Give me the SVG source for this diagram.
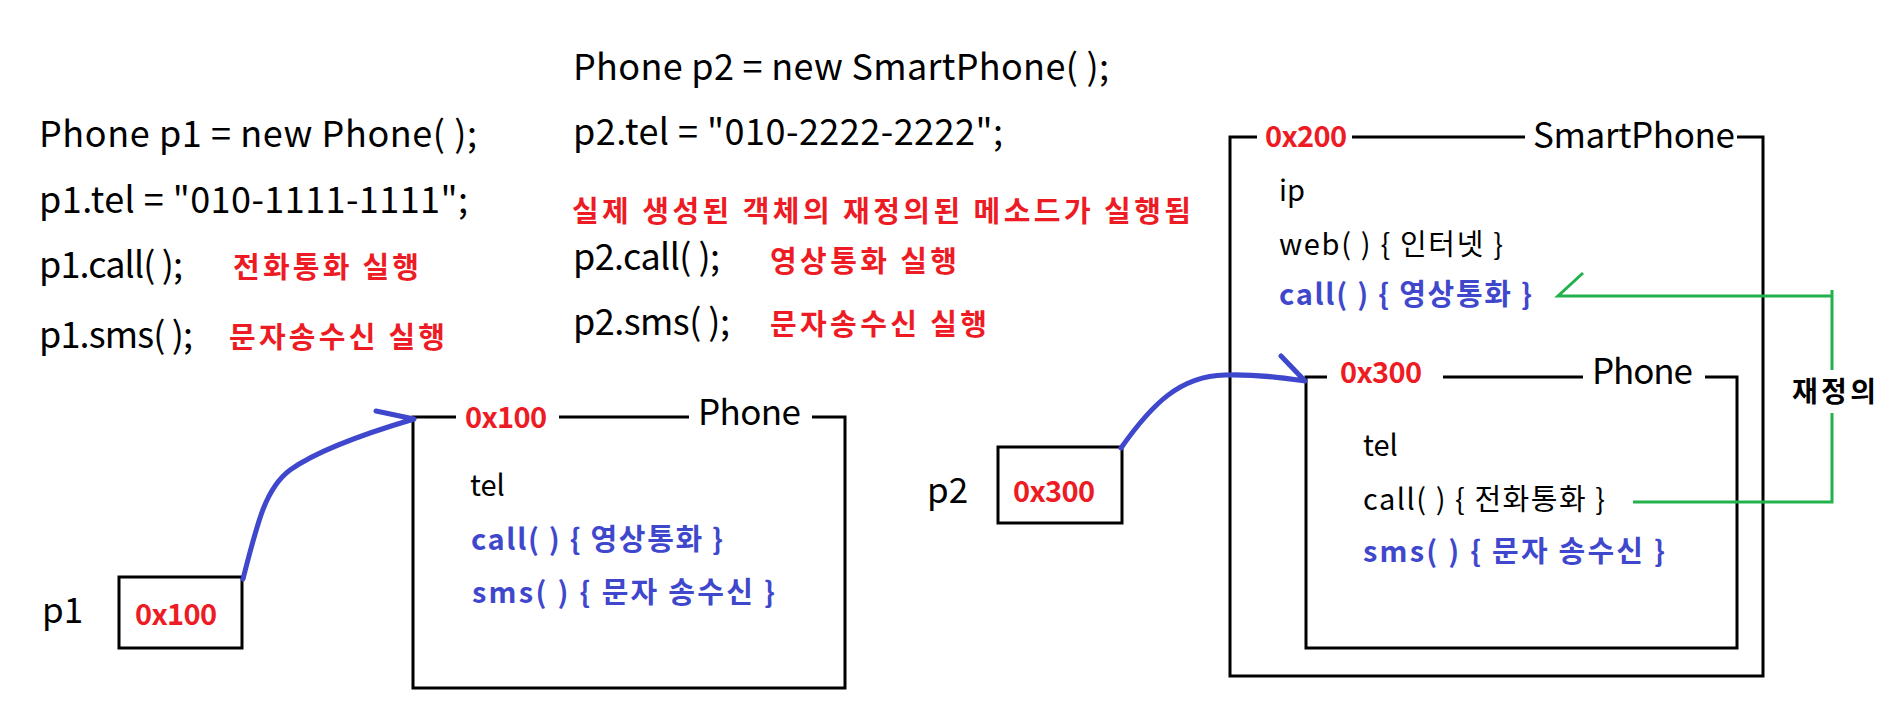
<svg xmlns="http://www.w3.org/2000/svg" width="1900" height="721" viewBox="0 0 1900 721">
<style>
text{font-family:"Noto Sans CJK KR","Malgun Gothic","Noto Sans",sans-serif}
.code{font-size:36px;fill:#000}
.note{font-size:29px;font-weight:bold;fill:#ED1C24}
.hex{font-size:29px;font-weight:bold;fill:#ED1C24}
.cls{font-size:35px;fill:#000}
.fld{font-size:29px;fill:#000}
.meth{font-size:29px;font-weight:bold;fill:#3F48CC}
.lbl{font-size:35px;fill:#000}
.ovt{font-size:28px;font-weight:bold;fill:#000}
.box{fill:none;stroke:#000;stroke-width:3}
.ref{fill:none;stroke:#3F48CC;stroke-width:5;stroke-linecap:round;stroke-linejoin:round}
.ovr{fill:none;stroke:#22B14C;stroke-width:3}
</style>
<rect width="1900" height="721" fill="#fff"/>

<g id="code-p1">
<text class="code" x="39" y="147" textLength="438">Phone p1 = new Phone( );</text>
<text class="code" x="39" y="213" textLength="429">p1.tel = "010-1111-1111";</text>
<text class="code" x="39" y="278" textLength="144">p1.call( );</text>
<text class="note" x="233" y="278" textLength="186">전화통화 실행</text>
<text class="code" x="39" y="348" textLength="154">p1.sms( );</text>
<text class="note" x="229" y="348" textLength="216">문자송수신 실행</text>
</g>

<g id="code-p2">
<text class="code" x="573" y="80" textLength="536">Phone p2 = new SmartPhone( );</text>
<text class="code" x="573" y="145" textLength="430">p2.tel = "010-2222-2222";</text>
<text class="note" x="572" y="222" textLength="619">실제 생성된 객체의 재정의된 메소드가 실행됨</text>
<text class="code" x="573" y="270" textLength="147">p2.call( );</text>
<text class="note" x="770" y="272" textLength="187">영상통화 실행</text>
<text class="code" x="573" y="335" textLength="157">p2.sms( );</text>
<text class="note" x="770" y="335" textLength="217">문자송수신 실행</text>
</g>

<g id="var-p1">
<text class="lbl" x="42" y="623">p1</text>
<rect class="box" x="119" y="577" width="123" height="71"/>
<text class="hex" x="135" y="625" textLength="82">0x100</text>
</g>

<g id="obj-0x100">
<path class="box" d="M456,417 H413 V688 H845 V417 H812 M559,417 H689"/>
<text class="hex" x="465" y="428" textLength="82">0x100</text>
<text class="cls" x="698" y="425" textLength="103">Phone</text>
<text class="fld" x="470" y="496">tel</text>
<text class="meth" x="471" y="550" textLength="252">call( ) { 영상통화 }</text>
<text class="meth" x="472" y="603" textLength="303">sms( ) { 문자 송수신 }</text>
</g>

<g id="var-p2">
<text class="lbl" x="927" y="503">p2</text>
<rect class="box" x="998" y="447" width="124" height="76"/>
<text class="hex" x="1013" y="502" textLength="82">0x300</text>
</g>

<g id="obj-0x200">
<path class="box" d="M1257,137 H1230 V676 H1763 V137 H1737 M1352,137 H1525"/>
<text class="hex" x="1265" y="147" textLength="82">0x200</text>
<text class="cls" x="1533" y="148" textLength="202">SmartPhone</text>
<text class="fld" x="1279" y="201">ip</text>
<text class="fld" x="1279" y="255" textLength="224">web( ) { 인터넷 }</text>
<text class="meth" x="1279" y="305" textLength="253">call( ) { 영상통화 }</text>
</g>

<g id="obj-0x300">
<path class="box" d="M1327,377 H1306 V648 H1737 V377 H1705 M1443,377 H1583"/>
<text class="hex" x="1340" y="383" textLength="82">0x300</text>
<text class="cls" x="1592" y="384" textLength="101">Phone</text>
<text class="fld" x="1363" y="456">tel</text>
<text class="fld" x="1363" y="510" textLength="242">call( ) { 전화통화 }</text>
<text class="meth" x="1363" y="562" textLength="302">sms( ) { 문자 송수신 }</text>
</g>

<g id="label-override">
<text class="ovt" x="1792" y="402" textLength="84">재정의</text>
</g>

<g id="connectors">
<path class="ref" d="M243,579 C258,520 266,488 290,470 C318,450 370,432 414,419 M376,411 L414,419"/>
<path class="ref" d="M1121,448 C1152,404 1180,376 1225,375 C1258,374 1284,378 1305,381 M1281,356 L1305,381"/>
<path class="ovr" d="M1832,370 V290 M1832,296 H1558 L1583,273 M1832,413 V502 H1633"/>
</g>
</svg>
